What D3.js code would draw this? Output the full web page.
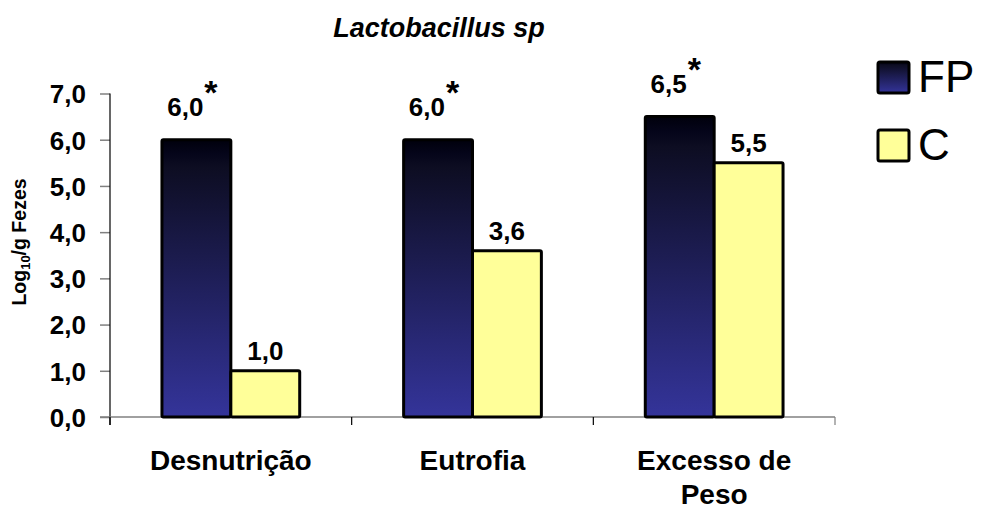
<!DOCTYPE html>
<html>
<head>
<meta charset="utf-8">
<script src="https://cdn.jsdelivr.net/npm/d3@7"></script>
<style>
  html, body { margin: 0; padding: 0; background: #fff; }
  svg { display: block; font-family: Arial, "Liberation Sans", sans-serif; }
</style>
</head>
<body>
<svg id="chart" width="986" height="509"></svg>
<script>
// Lactobacillus sp counts (log10/g faeces) by nutritional status
const categories = [["Desnutrição"], ["Eutrofia"], ["Excesso de", "Peso"]];
const seriesNames = ["FP", "C"];
const fpValues = [6.0, 6.0, 6.5];
const cValues = [1.0, 3.6, 5.5];
const fpSignificant = [true, true, true];
const yTicks = [0, 1, 2, 3, 4, 5, 6, 7];
const titleText = "Lactobacillus sp";

const svg = d3.select("#chart");
const fmt = v => v.toFixed(1).replace(".", ",");

// gradient used by the FP bars and their legend key
const defs = svg.append("defs");
const grad = defs.append("linearGradient")
  .attr("id", "fpGrad").attr("x1", 0).attr("y1", 0).attr("x2", 0).attr("y2", 1);
grad.append("stop").attr("offset", "0").attr("stop-color", "#00000c");
grad.append("stop").attr("offset", "0.05").attr("stop-color", "#05051a");
grad.append("stop").attr("offset", "0.1").attr("stop-color", "#0d0d22");
grad.append("stop").attr("offset", "1").attr("stop-color", "#34349a");

const fills = { FP: "url(#fpGrad)", C: "#ffff99" };

const y = d3.scaleLinear().domain([0, 7]).range([417, 93.5]);
const x0 = d3.scaleBand()
  .domain(d3.range(categories.length))
  .range([110, 835])
  .paddingInner(0.43)
  .paddingOuter(0.215);
const x1 = d3.scaleBand().domain(seriesNames).range([0, x0.bandwidth()]);
const step = x0.step();
const bandLeft = i => 110 + i * step;

// title
svg.append("text")
  .attr("x", 439).attr("y", 37)
  .attr("text-anchor", "middle")
  .style("font-size", "27px").style("font-weight", "bold").style("font-style", "italic")
  .text(titleText);

// y axis
const yAxis = d3.axisLeft(y).tickValues(yTicks).tickSize(10).tickFormat(fmt);
const gy = svg.append("g").attr("transform", "translate(110,0)").call(yAxis);
gy.select(".domain").remove();
gy.selectAll(".tick line").attr("stroke", "#808080").attr("stroke-width", 1.5);
gy.selectAll(".tick text")
  .attr("x", -24).attr("dy", "0.36em")
  .attr("fill", "#000")
  .style("font-size", "26px").style("font-weight", "bold")
  .style("font-family", "Arial, 'Liberation Sans', sans-serif");
svg.append("line")
  .attr("x1", 110).attr("x2", 110).attr("y1", y(7)).attr("y2", y(0) + 8)
  .attr("stroke", "#000").attr("stroke-width", 1.2);

// baseline and category separators
svg.append("line")
  .attr("x1", 100).attr("x2", 835).attr("y1", y(0)).attr("y2", y(0))
  .attr("stroke", "#808080").attr("stroke-width", 1.5);
svg.append("g").selectAll("line")
  .data(d3.range(categories.length + 1))
  .join("line")
  .attr("x1", i => bandLeft(i)).attr("x2", i => bandLeft(i))
  .attr("y1", y(0)).attr("y2", y(0) + 8)
  .attr("stroke", (d, i) => i === categories.length ? "#808080" : "#000")
  .attr("stroke-width", 1.2);

// y axis title
const yTitle = svg.append("text")
  .attr("transform", `translate(26,${242}) rotate(-90)`)
  .attr("text-anchor", "middle")
  .style("font-size", "19.5px").style("font-weight", "bold");
yTitle.append("tspan").text("Log");
yTitle.append("tspan").attr("dy", 4).style("font-size", "13px").text("10");
yTitle.append("tspan").attr("dy", -4).text("/g Fezes");

// bars
const rows = categories.map((c, i) => ({ i, FP: fpValues[i], C: cValues[i], sig: fpSignificant[i] }));
const groups = svg.append("g").selectAll("g")
  .data(rows).join("g")
  .attr("transform", d => `translate(${x0(d.i)},0)`);

groups.selectAll("rect")
  .data(d => seriesNames.map(k => ({ key: k, value: d[k] })))
  .join("rect")
  .attr("x", d => x1(d.key))
  .attr("y", d => y(d.value))
  .attr("width", x1.bandwidth())
  .attr("height", d => y(0) - y(d.value))
  .attr("rx", 1.5)
  .attr("fill", d => fills[d.key])
  .attr("stroke", "#000").attr("stroke-width", 3);

// value labels
groups.each(function (d) {
  const g = d3.select(this);
  const fpLabel = g.append("text")
    .attr("x", x1("FP") + x1.bandwidth() / 2 - 4)
    .attr("y", y(d.FP) - 24)
    .attr("text-anchor", "middle")
    .style("font-size", "26px").style("font-weight", "bold");
  fpLabel.append("tspan").text(fmt(d.FP));
  if (d.sig) {
    fpLabel.append("tspan").attr("dx", 1).attr("dy", -12).style("font-size", "34px").text("*");
  }
  g.append("text")
    .attr("x", x1("C") + x1.bandwidth() / 2)
    .attr("y", y(d.C) - 11)
    .attr("text-anchor", "middle")
    .style("font-size", "26px").style("font-weight", "bold")
    .text(fmt(d.C));
});

// category labels
svg.append("g").selectAll("text")
  .data(categories)
  .join("text")
  .attr("x", (d, i) => x0(i) + x0.bandwidth() / 2)
  .attr("y", 470)
  .attr("text-anchor", "middle")
  .style("font-size", "28px").style("font-weight", "bold")
  .each(function (lines) {
    d3.select(this).selectAll("tspan")
      .data(lines).join("tspan")
      .attr("x", d3.select(this).attr("x"))
      .attr("dy", (l, j) => j === 0 ? 0 : 34)
      .text(l => l);
  });

// legend
const legend = svg.append("g").selectAll("g")
  .data(seriesNames).join("g")
  .attr("transform", (d, i) => `translate(878,${62 + i * 68})`);
legend.append("rect")
  .attr("width", 31).attr("height", 31).attr("rx", 2)
  .attr("fill", d => fills[d])
  .attr("stroke", "#000").attr("stroke-width", 3);
legend.append("text")
  .attr("x", 40).attr("y", 30)
  .style("font-size", "44px")
  .text(d => d);
</script>
</body>
</html>
